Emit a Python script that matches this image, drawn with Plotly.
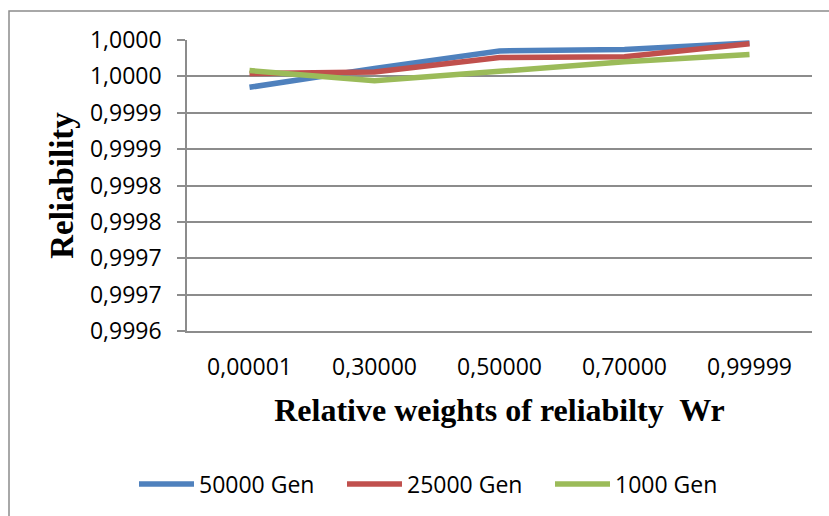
import plotly.graph_objects as go

categories = ["0,00001", "0,30000", "0,50000", "0,70000", "0,99999"]
series_names = ["50000 Gen", "25000 Gen", "1000 Gen"]
gen50000 = [0.999935, 0.999961, 0.999985, 0.999987, 0.999996]
gen25000 = [0.999954, 0.999956, 0.999976, 0.999977, 0.999995]
gen1000 = [0.999958, 0.999944, 0.999957, 0.999970, 0.999980]
y_tickvals = [0.99960, 0.99965, 0.99970, 0.99975, 0.99980, 0.99985, 0.99990, 0.99995, 1.00000]
y_ticktext = ["0,9996", "0,9997", "0,9997", "0,9998", "0,9998", "0,9999", "0,9999", "1,0000", "1,0000"]
colors = ["#4F81BD", "#C0504D", "#9BBB59"]

fig = go.Figure()
for name, vals, col in zip(series_names, [gen50000, gen25000, gen1000], colors):
    fig.add_trace(go.Scatter(x=categories, y=vals, name=name, mode="lines",
                             line=dict(color=col, width=5.5)))

W, H = 829, 516
L, R, T, B = 187, 17, 40, 184
pw, ph = W - L - R, H - T - B

def px_x(p):
    return (p - L) / pw

def px_y(p):
    return (H - B - p) / ph

fig.add_shape(type="rect", xref="paper", yref="paper",
              x0=px_x(9), x1=px_x(900), y0=px_y(600), y1=px_y(11),
              line=dict(color="#8C8C8C", width=1.5), fillcolor="rgba(0,0,0,0)", layer="below")

FS = 23
fig.update_layout(
    width=W, height=H,
    margin=dict(l=L, r=R, t=T, b=B, pad=0),
    paper_bgcolor="white", plot_bgcolor="white",
    font=dict(family="Open Sans", size=FS, color="#000000"),
    showlegend=True,
    legend=dict(orientation="h", x=px_x(134), xanchor="left", y=px_y(484), yanchor="middle",
                font=dict(family="Open Sans", size=FS, color="#000000"),
                itemwidth=55, entrywidth=138, entrywidthmode="pixels",
                bgcolor="rgba(0,0,0,0)"),
    xaxis=dict(type="category", showgrid=False, showline=True, linecolor="#8C8C8C", linewidth=1.5,
               ticks="", tickfont=dict(family="Open Sans", size=FS), ticklabelstandoff=15,
               title=dict(text="<b>Relative weights of reliabilty  Wr</b>",
                          font=dict(family="Liberation Serif", size=32), standoff=17),
               range=[-0.5, 4.5], fixedrange=True),
    yaxis=dict(range=[0.9996, 1.0], tickvals=y_tickvals, ticktext=y_ticktext,
               showgrid=True, gridcolor="#8C8C8C", gridwidth=1.5,
               showline=True, linecolor="#8C8C8C", linewidth=1.5,
               ticks="outside", ticklen=8, tickcolor="#8C8C8C", tickwidth=1.5,
               tickfont=dict(family="Open Sans", size=FS), ticklabelstandoff=11,
               title=dict(text="<b>Reliability</b>",
                          font=dict(family="Liberation Serif", size=33), standoff=6),
               zeroline=False),
)

fig.write_html("out.html")
